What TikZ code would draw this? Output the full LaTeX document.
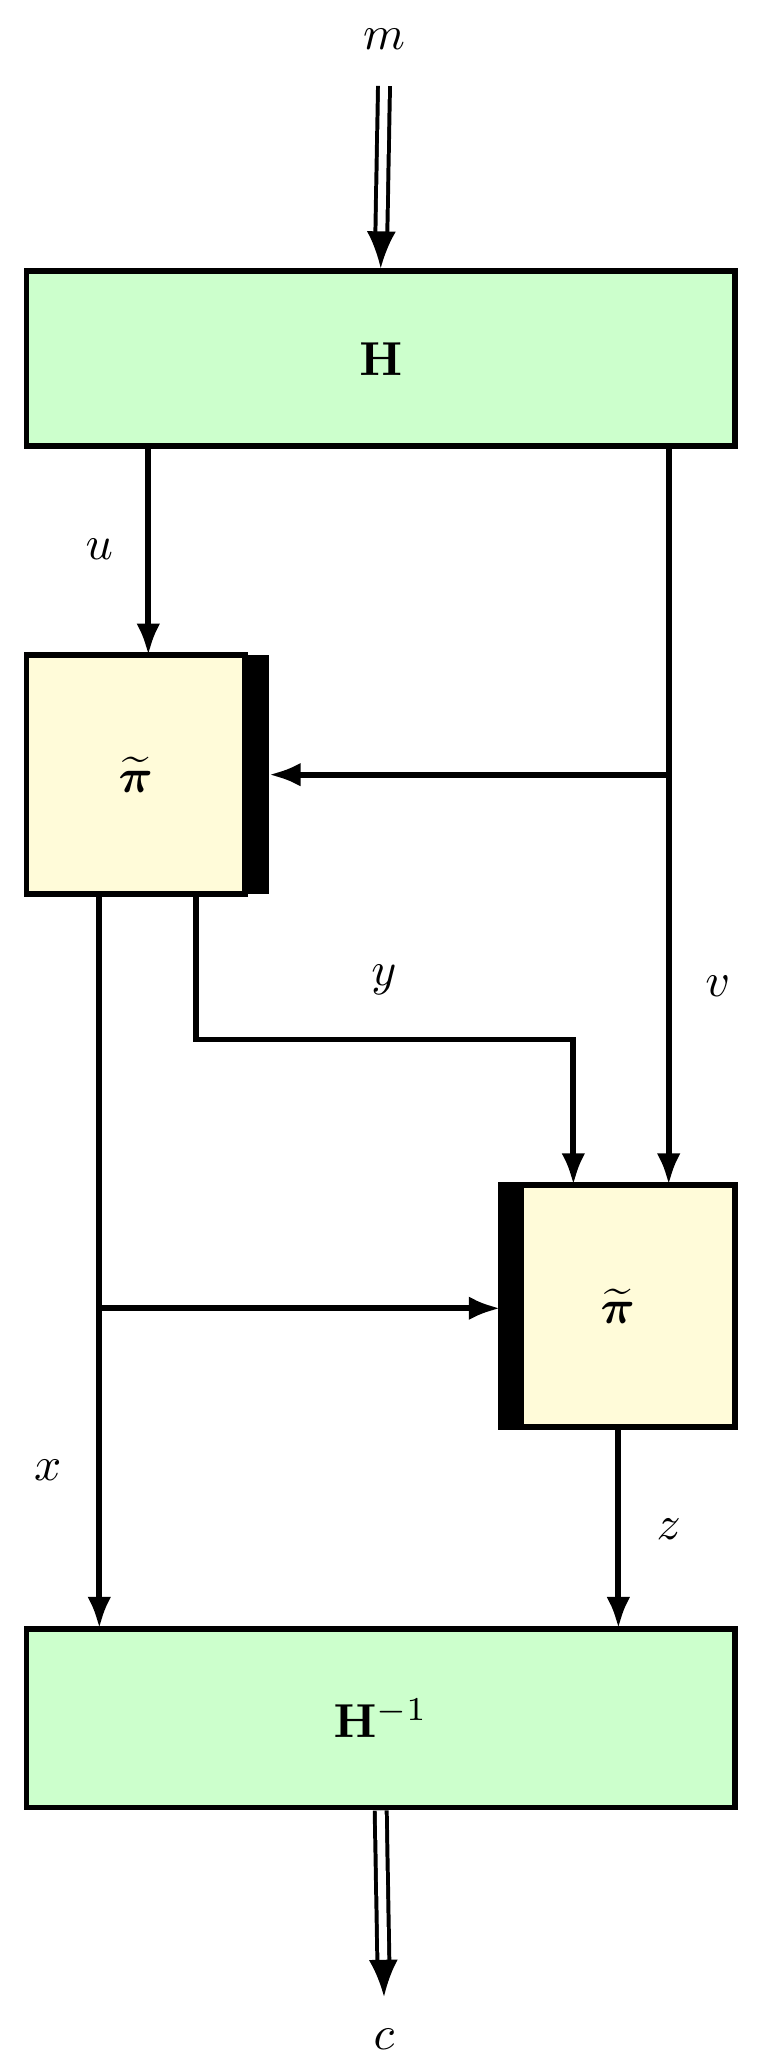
\documentclass[tikz,border=0pt]{standalone}
\usepackage{amsmath,bm}
\usetikzlibrary{arrows.meta}
\definecolor{gr}{HTML}{CCFFCC}
\definecolor{yl}{HTML}{FFFBD9}
\newcommand{\bigt}[1]{\scalebox{3.6}{#1}}
\begin{document}
\begin{tikzpicture}[x=1pt,y=-1pt,
 box/.style={draw,line width=4.5pt,inner sep=0pt},
 ar/.style={line width=4.5pt,-{Latex[length=24pt,width=18pt]}},
 dar/.style={double,double distance=6pt,line width=3pt,-{Latex[length=28pt,width=22pt]}},
 lab/.style={inner sep=0pt}]
\useasboundingbox (0,0) rectangle (580,1564);
\node[box,fill=gr,minimum width=535pt,minimum height=132pt] (H) at (287.5,271) {\bigt{$\mathbf{H}$}};
\node[box,fill=gr,minimum width=535pt,minimum height=135pt] (Hi) at (287.5,1297.5) {\bigt{$\mathbf{H}^{-1}$}};
\node[box,fill=yl,minimum width=165pt,minimum height=180pt] (P1) at (102.5,585) {\bigt{$\widetilde{\bm{\pi}}$}};
\fill (185,495) rectangle (203,675);
\node[box,fill=yl,minimum width=177pt,minimum height=183pt] (P2) at (466.5,986.5) {\bigt{$\widetilde{\bm{\pi}}$}};
\fill (378,895) rectangle (396,1078);
\node[lab] (m) at (290,30) {\bigt{$m$}};
\node[lab] (c) at (290,1540) {\bigt{$c$}};
\coordinate (mt) at (290,65);
\coordinate (cb) at (290,1508);
\draw[dar] (mt) -- (H.north);
\draw[dar] (Hi.south) -- (cb);
\coordinate (ua) at (112,339);
\coordinate (ub) at (112,495);
\draw[ar] (ua) -- (ub);
\node[lab] at (75,415) {\bigt{$u$}};
\coordinate (va) at (505,339);
\coordinate (vb) at (505,895);
\coordinate (vm) at (505,585);
\draw[ar] (va) -- (vb);
\node[lab] at (542,745) {\bigt{$v$}};
\coordinate (p1r) at (203,585);
\draw[ar] (vm) -- (p1r);
\coordinate (xa) at (75,677);
\coordinate (xb) at (75,1230);
\draw[ar] (xa) -- (xb);
\node[lab] at (36,1110) {\bigt{$x$}};
\coordinate (xm) at (75,988);
\coordinate (p2l) at (378,988);
\draw[ar] (xm) -- (p2l);
\coordinate (ya) at (148,677);
\coordinate (yb) at (433,895);
\draw[ar] (ya) |- (433,785) -- (yb);
\node[lab] at (290,740) {\bigt{$y$}};
\coordinate (za) at (467,1080);
\coordinate (zb) at (467,1230);
\draw[ar] (za) -- (zb);
\node[lab] at (505,1155) {\bigt{$z$}};
\end{tikzpicture}
\end{document}
